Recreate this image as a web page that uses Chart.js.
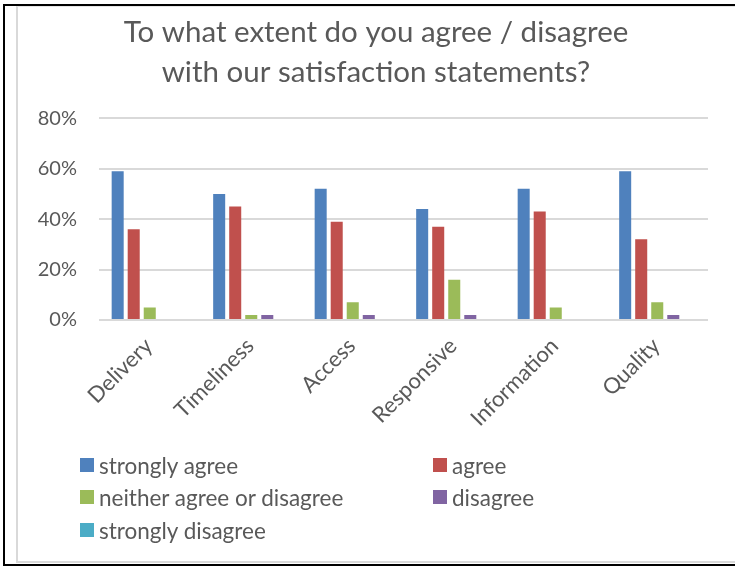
<!DOCTYPE html>
<html>
<head>
<meta charset="utf-8">
<script src="https://cdn.jsdelivr.net/npm/chart.js@4/dist/chart.umd.min.js"></script>
<style>
  html, body { margin: 0; padding: 0; background: #fff; }
  #wrap { position: relative; width: 735px; height: 566px; overflow: hidden; background: #fff; }
  #outer { position: absolute; left: 3px; top: 4px; width: 740px; height: 562px; box-sizing: border-box;
           border-left: 2px solid #000; border-top: 2px solid #000; border-bottom: 2px solid #000; }
  #inner { position: absolute; left: 16px; top: 6px; width: 730px; height: 557px; box-sizing: border-box;
           border-left: 2px solid #d9d9d9; border-top: 1px solid #e6e6e6; border-bottom: 2px solid #d9d9d9; }
  #c { position: absolute; left: 0; top: 0; }
  .leg { position: absolute; display: flex; align-items: center; font-family: Lato, sans-serif; font-size: 22.5px; color: #595959; height: 24px; white-space: nowrap; }
  .leg span.box { display: inline-block; width: 14px; height: 14px; margin-right: 5px; }
</style>
</head>
<body>
<div id="wrap">
  <div id="outer"></div>
  <div id="inner"></div>
  <canvas id="c" width="735" height="566"></canvas>
  <div id="legend"></div>
</div>
<script>
const titleLines = ['To what extent do you agree / disagree', 'with our satisfaction statements?'];
const categories = ['Delivery', 'Timeliness', 'Access', 'Responsive', 'Information', 'Quality'];
const seriesNames = ['strongly agree', 'agree', 'neither agree or disagree', 'disagree', 'strongly disagree'];
const stronglyAgree = [59, 50, 52, 44, 52, 59];
const agree = [36, 45, 39, 37, 43, 32];
const neither = [5, 2, 7, 16, 5, 7];
const disagree = [0, 2, 2, 2, 0, 2];
const stronglyDisagree = [0, 0, 0, 0, 0, 0];
const yTicks = [0, 20, 40, 60, 80];
const colors = ['#4F81BD', '#C0504D', '#9BBB59', '#8064A2', '#4BACC6'];

const seriesValues = [stronglyAgree, agree, neither, disagree, stronglyDisagree];
const FONT = 'Lato, sans-serif';
const TEXT = '#595959';

const titleShift = {
  id: 'titleShift',
  afterLayout(chart) {
    if (chart.titleBlock) {
      chart.titleBlock.left = 17;
      chart.titleBlock.right = 735;
      chart.titleBlock.width = 718;
    }
  }
};

const chart = new Chart(document.getElementById('c'), {
  type: 'bar',
  data: {
    labels: categories,
    datasets: seriesValues.map((vals, i) => ({
      label: seriesNames[i],
      data: vals,
      backgroundColor: colors[i],
      borderWidth: 0,
      categoryPercentage: 0.79,
      barPercentage: 0.75
    }))
  },
  options: {
    responsive: false,
    animation: false,
    layout: { padding: { left: 0, right: 27, top: 0, bottom: 140 } },
    plugins: {
      legend: { display: false },
      tooltip: { enabled: false },
      title: {
        display: true,
        text: titleLines,
        color: TEXT,
        font: { family: FONT, size: 29.5, weight: 'normal', lineHeight: 1.36 },
        padding: { top: 12, bottom: 26 }
      }
    },
    scales: {
      x: {
        grid: { display: false, drawTicks: false },
        border: { display: false },
        ticks: {
          color: TEXT, font: { family: FONT, size: 22 },
          minRotation: 45, maxRotation: 45, autoSkip: false, padding: 13, labelOffset: -1
        },
        afterFit(scale) { scale.height = 106; }
      },
      y: {
        min: 0, max: 80,
        afterBuildTicks(scale) { scale.ticks = yTicks.map(v => ({ value: v })); },
        grid: { color: '#d9d9d9', lineWidth: 2, drawTicks: false },
        border: { display: false },
        ticks: {
          color: TEXT, font: { family: FONT, size: 20 }, padding: 22,
          callback: v => v + '%'
        },
        afterFit(scale) { scale.width = 99; }
      }
    }
  },
  plugins: [titleShift]
});

// legend built from the datasets
const legendPos = [[80, 453], [433, 453], [80, 485], [433, 485], [80, 518]];
const legendEl = document.getElementById('legend');
chart.data.datasets.forEach((ds, i) => {
  const d = document.createElement('div');
  d.className = 'leg';
  d.style.left = legendPos[i][0] + 'px';
  d.style.top = legendPos[i][1] + 'px';
  const b = document.createElement('span');
  b.className = 'box';
  b.style.background = ds.backgroundColor;
  const t = document.createElement('span');
  t.textContent = ds.label;
  d.appendChild(b); d.appendChild(t);
  legendEl.appendChild(d);
});
</script>
</body>
</html>
